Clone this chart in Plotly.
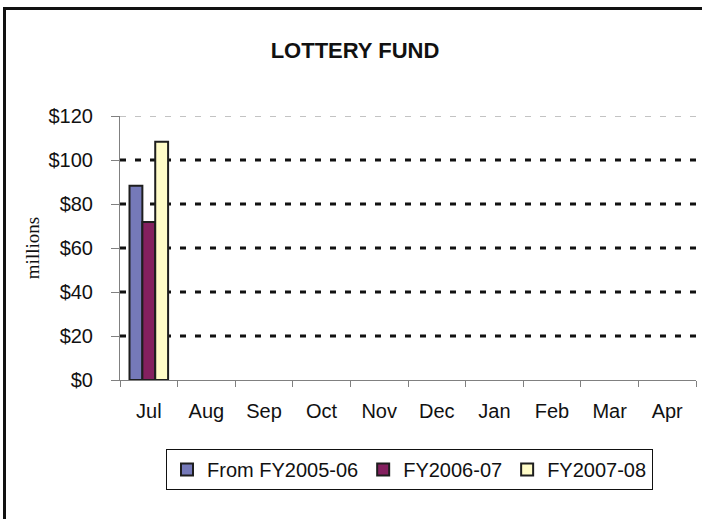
import plotly.graph_objects as go

months = ["Jul", "Aug", "Sep", "Oct", "Nov", "Dec", "Jan", "Feb", "Mar", "Apr"]
series_names = ["From FY2005-06", "FY2006-07", "FY2007-08"]
fy2005_06 = [88.3, None, None, None, None, None, None, None, None, None]
fy2006_07 = [71.8, None, None, None, None, None, None, None, None, None]
fy2007_08 = [108.3, None, None, None, None, None, None, None, None, None]
y_ticks = [0, 20, 40, 60, 80, 100, 120]
y_tick_labels = ["$0", "$20", "$40", "$60", "$80", "$100", "$120"]
grid_black = [20, 40, 60, 80, 100]
grid_top = [120]

colors = ["#7579b9", "#84205f", "#fffcc8"]
values = [fy2005_06, fy2006_07, fy2007_08]

fig = go.Figure()
for name, vals, col in zip(series_names, values, colors):
    fig.add_trace(go.Bar(
        x=months, y=vals, name=name,
        marker=dict(color=col, line=dict(color="#1e1e1e", width=2)),
    ))

W, H = 702, 519
L, R, T, B = 120, 6, 116, 139
pw = W - L - R
ph = H - T - B

shapes = []
for v in grid_black:
    shapes.append(dict(type="line", xref="paper", yref="y", x0=0, x1=1, y0=v, y1=v,
                       line=dict(color="#111111", width=3, dash="6px,9px"), layer="below"))
for v in grid_top:
    shapes.append(dict(type="line", xref="paper", yref="y", x0=0, x1=1, y0=v, y1=v,
                       line=dict(color="#888888", width=1, dash="6px,9px"), layer="below"))
# outer chart frame
shapes.append(dict(type="rect", xref="paper", yref="paper",
                   x0=(4.5 - L) / pw, x1=(W + 20 - L) / pw,
                   y0=(H - B - (H + 20)) / ph, y1=(H - B - 8.5) / ph,
                   line=dict(color="#111111", width=3), fillcolor="rgba(0,0,0,0)"))

fig.update_layout(
    width=W, height=H,
    margin=dict(l=L, r=R, t=T, b=B),
    paper_bgcolor="white", plot_bgcolor="white",
    font=dict(family="Liberation Sans, Arial, sans-serif", size=20, color="#111111"),
    barmode="group", bargap=0.33, bargroupgap=0,
    showlegend=True,
    legend=dict(orientation="h", x=(409.5 - L) / pw, xanchor="center",
                y=(H - B - 449) / ph, yanchor="top",
                bordercolor="#111111", borderwidth=1, font=dict(size=20),
                itemwidth=30, tracegroupgap=0),
    title=dict(text="<b>LOTTERY FUND</b>", x=(355 - L) / pw, xref="paper", xanchor="center",
               y=1 - 50 / H, yref="container", yanchor="middle",
               font=dict(size=22, family="Liberation Sans, Arial, sans-serif", color="#111111")),
    shapes=shapes,
    xaxis=dict(type="category", categoryorder="array", categoryarray=months,
               showline=True, linecolor="#808080", linewidth=1,
               ticks="outside", ticklen=6, tickcolor="#808080", tickson="boundaries",
               showgrid=False, ticklabelstandoff=13, range=[-0.5, 9.5]),
    yaxis=dict(range=[0, 120], tickmode="array", tickvals=y_ticks, ticktext=y_tick_labels,
               showline=True, linecolor="#808080", linewidth=1,
               ticks="outside", ticklen=8, tickcolor="#808080",
               showgrid=False, zeroline=False, ticklabelstandoff=14,
               title=dict(text="millions", standoff=3,
                          font=dict(family="Liberation Serif, Times New Roman, serif", size=19))),
)

fig.write_html("out.html", config={"displayModeBar": False},
               post_script="document.body.style.margin='0';document.body.style.overflow='hidden';")
